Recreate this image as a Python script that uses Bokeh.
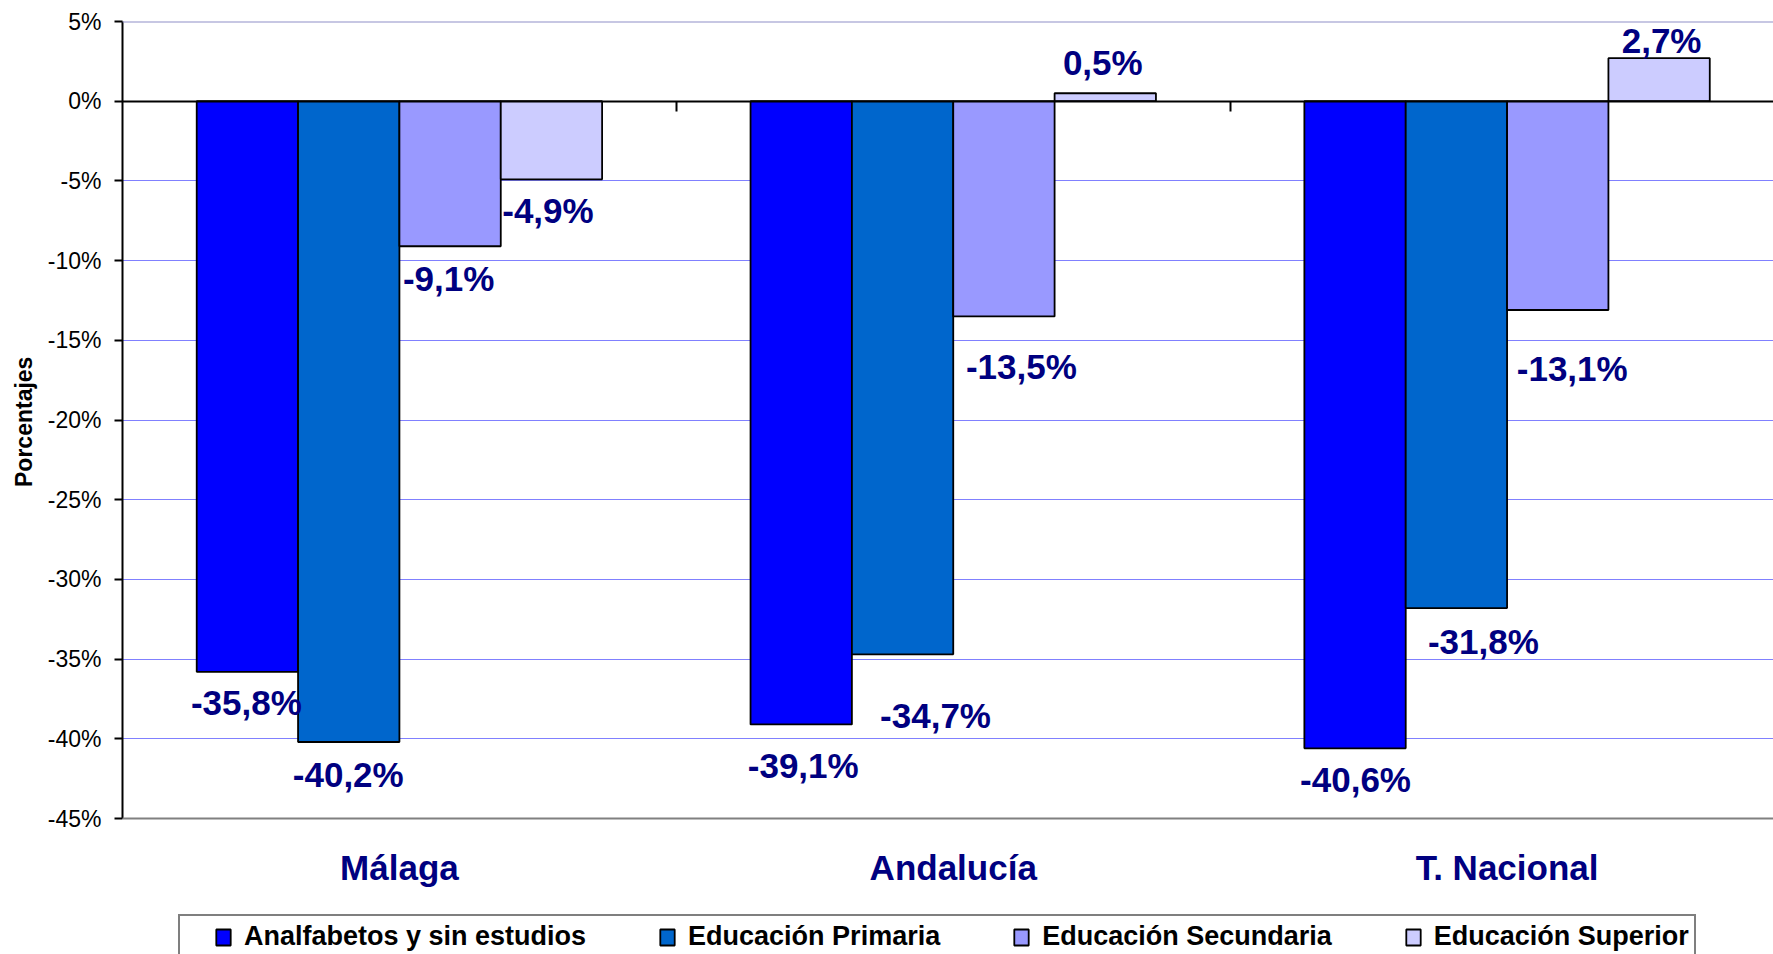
from bokeh.plotting import figure
from bokeh.models import (Range1d, FixedTicker, PrintfTickFormatter, LinearAxis,
                          Legend, LegendItem, Span, ColumnDataSource, Title)
from bokeh.core.properties import value
from bokeh.embed import file_html
from bokeh.resources import INLINE

# ---------------- data ----------------
categories = ["Málaga", "Andalucía", "T. Nacional"]
series_names = ["Analfabetos y sin estudios", "Educación Primaria",
                "Educación Secundaria", "Educación Superior"]
analfabetos = [-35.8, -39.1, -40.6]
primaria = [-40.2, -34.7, -31.8]
secundaria = [-9.1, -13.5, -13.1]
superior = [-4.9, 0.5, 2.7]
y_ticks = [-45, -40, -35, -30, -25, -20, -15, -10, -5, 0, 5]
y_title = "Porcentajes"

series_values = [analfabetos, primaria, secundaria, superior]
colors = ["#0000FF", "#0066CC", "#9999FF", "#CCCCFF"]

# label placement (screen px, per series, per category): shift right / shift down from bar end
label_dx = [[-1, 2, 0.5], [-0.5, 33, 27], [-1.5, 17.5, 14.5], [-3.5, -2.5, 2.5]]
label_dy = [[31, 41.5, 31], [33, 61, 33.5], [32.5, 50.5, 58], [31.5, -30.5, -18]]

# ---------------- layout constants ----------------
W, H = 1773, 954
BL, BT = 120, 21
PLOT_H = 797            # px from 5% to -45%
CAT_PX = 554.5
TITLE_HALF_LEN = 67     # half the length of the rotated y title, px
frame_w = W - BL
Y_MIN, Y_MAX = y_ticks[0], y_ticks[-1]
ppu = PLOT_H / (Y_MAX - Y_MIN)
y_bottom = Y_MIN - (H - BT - PLOT_H) / ppu
BAR_W = 0.183
FONT = "Liberation Sans"
NAVY = "#000080"

p = figure(width=W, height=H, output_backend="svg", toolbar_location=None,
           x_axis_location=None,
           x_range=Range1d(0, frame_w / CAT_PX), y_range=Range1d(y_bottom, Y_MAX),
           min_border_left=BL, min_border_right=0, min_border_top=BT,
           min_border_bottom=0)
p.outline_line_color = None
p.background_fill_color = "white"
p.border_fill_color = "white"

# grid
p.xgrid.grid_line_color = None
p.ygrid.ticker = FixedTicker(ticks=y_ticks)
p.ygrid.grid_line_color = "#8080FF"
p.ygrid.grid_line_width = 1

# y axis
p.yaxis.bounds = (Y_MIN, Y_MAX)
p.yaxis.ticker = FixedTicker(ticks=y_ticks)
p.yaxis.formatter = PrintfTickFormatter(format="%d%%")
p.yaxis.major_label_text_font = FONT
p.yaxis.major_label_text_font_size = "23px"
p.yaxis.major_label_text_color = "black"
p.yaxis.major_tick_out = 8
p.yaxis.major_tick_in = 0
p.yaxis.minor_tick_line_color = None
p.yaxis.major_tick_line_width = 2
p.yaxis.axis_line_width = 2
p.yaxis.axis_line_color = "black"
p.yaxis.major_label_standoff = 13

# y title, centred on the plot area (frame extends below it for labels/legend)
title_offset = (H - BT - PLOT_H / 2) - TITLE_HALF_LEN
p.add_layout(Title(text=y_title, align="left", offset=title_offset,
                   text_font=FONT, text_font_size="23px", text_font_style="bold",
                   text_color="black", standoff=16), "left")

# category axis, fixed at the bottom of the plot area
centers = [i + 0.5 for i in range(len(categories))]
cat_axis = LinearAxis(fixed_location=Y_MIN, ticker=FixedTicker(ticks=centers),
                      major_label_overrides={c: name for c, name in zip(centers, categories)},
                      axis_line_color=None, major_tick_line_color=None,
                      minor_tick_line_color=None, major_label_text_font=FONT,
                      major_label_text_font_size="35px", major_label_text_font_style="bold",
                      major_label_text_color=NAVY, major_label_standoff=23)
p.add_layout(cat_axis, "below")

# zero axis with boundary ticks
zero_axis = LinearAxis(fixed_location=0,
                       ticker=FixedTicker(ticks=list(range(1, len(categories)))),
                       major_label_text_alpha=0, major_label_text_font_size="1px",
                       major_tick_out=10, major_tick_in=0, major_tick_line_width=2,
                       minor_tick_line_color=None, axis_line_width=2,
                       axis_line_color="black")
p.add_layout(zero_axis, "below")

# plot-area top/bottom borders
p.add_layout(Span(location=Y_MAX, dimension="width", line_color="#9090C8", line_width=2))
p.add_layout(Span(location=Y_MIN, dimension="width", line_color="#808080", line_width=2))

# bars and labels
renderers = []
lab_x, lab_y, lab_t = [], [], []
n = len(series_values)
for i, (vals, col) in enumerate(zip(series_values, colors)):
    xs = [c + (i - (n - 1) / 2) * BAR_W for c in centers]
    src = ColumnDataSource(dict(x=xs, top=vals))
    r = p.vbar(x="x", top="top", bottom=0, width=BAR_W, source=src,
               fill_color=col, line_color="black", line_width=1.8)
    renderers.append(r)
    for j, (x, v) in enumerate(zip(xs, vals)):
        lab_x.append(x + label_dx[i][j] / CAT_PX)
        lab_y.append(v - label_dy[i][j] / ppu)
        lab_t.append(f"{v:.1f}%".replace(".", ","))

p.text(x=lab_x, y=lab_y, text=lab_t, text_font=value(FONT), text_font_style="bold",
       text_font_size="35px", text_color=NAVY, text_align="center",
       text_baseline="middle")

# legend
legend = Legend(items=[LegendItem(label=nm, renderers=[r]) for nm, r in zip(series_names, renderers)],
                orientation="horizontal", location=(56, -5),
                label_text_font=FONT, label_text_font_size="27px",
                label_text_font_style="bold", label_text_color="black",
                glyph_width=18, glyph_height=20, label_standoff=12, spacing=72,
                padding=5, margin=0, border_line_color="black", border_line_width=2,
                background_fill_color="white", background_fill_alpha=1,
                title=" ", title_location="left", title_text_font_size="1px",
                title_standoff=28)
p.add_layout(legend, "center")

open("out.html", "w").write(file_html(p, INLINE))
